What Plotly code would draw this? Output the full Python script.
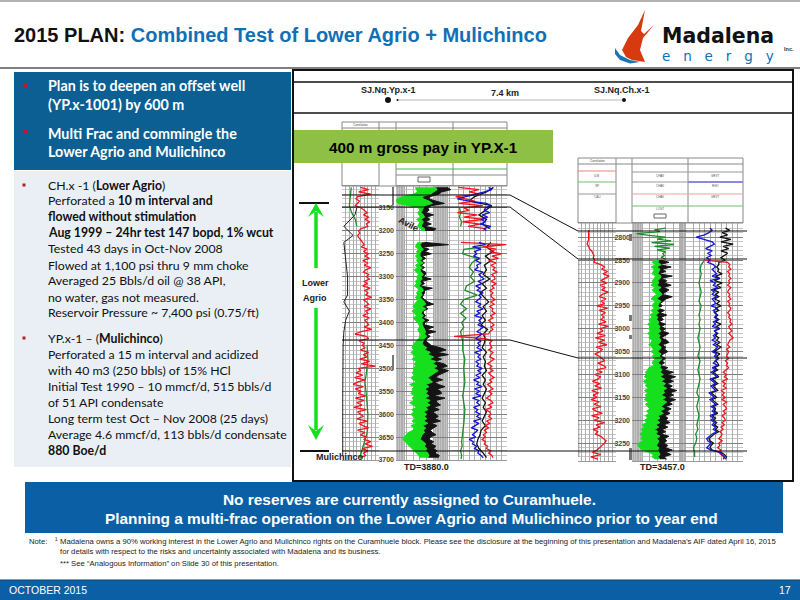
import plotly.graph_objects as go

# ---------- Well YP.x-1: depth (m) and curve readings (% of track width) ----------
D1 = list(range(3105, 3700, 5))
Y_RED1 = [50,72,45,78,42,38,47,40,36,52, 60,68,58,72,62,75,66,70,52,45,
          48,42,46,50,55,60,52,68,58,72, 62,74,56,70,60,78,64,58,72,66,
          74,60,68,56,76,62,70,64,80,58, 66,72,60,78,64,70,56,74,62,68,
          72,60,80,52,35,66,72,46,60,55, 62,50,72,58,68,48,75,52,90,44,
          50,38,56,34,62,42,30,58,36,52, 44,64,36,60,40,54,32,66,42,50,
          58,40,68,46,56,72,42,62,50,66, 60,78,62,82,55,70,58,64,50]
Y_GL = [34,36,38,30,12,2,0,4,20,40, 42,38,40,44,36,42,40,38,44,46,
        None,None,None,None,38,36,34,40,36,38, 34,38,36,40,34,38,32,36,40,36,
        38,34,36,32,38,40,36,38,34,38, 36,32,30,34,28,32,36,30,34,38,
        40,42,38,40,44,42,40,36,32,30, 28,32,26,30,34,28,36,32,34,30,
        32,28,34,26,30,36,24,32,28,30, 26,34,28,32,24,30,36,28,32,26,
        30,34,28,36,26,32,30,22,18,14, 12,16,20,24,28,32,36,40,42]
Y_GR = [70,72,66,60,46,48,58,64,50,48, 46,44,48,50,44,48,46,44,50,50,
        None,None,None,None,46,42,44,48,44,42, 42,46,42,48,40,46,42,44,48,44,
        46,42,44,40,46,48,44,46,42,46, 50,52,46,52,46,44,48,44,50,46,
        46,48,50,52,50,54,50,48,46,48, 54,50,60,56,66,58,70,64,72,66,
        74,68,62,56,60,64,52,58,50,56, 52,58,50,60,54,60,52,56,48,54,
        50,54,48,56,46,52,48,50,46,44, 42,48,52,50,54,52,56,58,56]
Y_BK = [90,96,80,75,60,58,70,85,62,56, 58,52,66,54,60,52,62,50,70,66,
        None,None,None,None,50,92,46,58,50,62, 46,52,45,50,44,50,44,52,52,47,
        62,46,50,42,64,50,50,48,46,50, 56,66,50,56,48,48,52,48,58,50,
        50,66,54,70,54,60,54,52,58,62, 78,88,72,92,70,80,68,84,90,78,
        92,84,74,70,82,68,74,86,72,78, 80,66,86,70,72,78,66,76,64,70,
        74,68,78,62,72,66,60,64,70,60, 58,66,62,70,66,72,68,76,74]
Y_BLUE = [66,72,58,40,20,8,30,62,70,60, 58,68,54,64,52,60,50,70,58,62,
          None,None,None,None,48,60,36,52,40,44, 38,50,42,52,44,46,40,56,48,52,
          58,46,54,42,50,44,56,48,52,46, 42,52,46,56,44,50,40,54,48,52,
          46,56,50,44,54,48,42,52,46,50, 44,54,40,50,46,52,42,48,44,54,
          46,52,42,50,38,48,44,54,40,50, 42,52,36,48,44,50,38,46,42,50,
          44,52,38,48,42,34,46,40,36,42, 30,38,36,44,40,48,46,52,56]
Y_RED3 = [10,48,30,50,5,25,40,10,55,20, 30,8,45,20,58,18,50,28,60,55,
          None,None,None,None,15,98,55,80,68,90, 72,84,66,80,70,78,74,82,72,76,
          78,70,80,72,76,68,74,70,72,78, 70,76,68,74,72,78,70,74,66,72,
          76,70,74,68,66,2,60,72,68,70, 72,66,74,70,68,76,70,64,72,68,
          74,66,70,76,68,72,64,70,74,66, 72,68,62,70,74,66,72,60,68,70,
          66,72,62,68,60,66,58,62,56,60, 54,60,58,64,62,70,66,72,74]
D1_TEN = list(range(3105, 3700, 10))
Y_BK3 = [75,62,40,30,72,60,48,62,55,68, None,None,70,62,74,60,70,58,62,56,
         68,54,62,50,58,66,56,62,54,60, 52,64,56,60,58,54,62,56,60,58,
         62,54,60,56,62,58,54,60,56,62, 58,54,60,52,50,46,44,48,56,62]
D1_G3 = [3150,3160,3170,3180,3190,3200,3210,3220,3230,3240,3250,3260,3270,3280,3290,3300,
         3310,3320,3330,3340,3350,3360,3370,3380,3390,3400,3410,3420,3430,3440,3460,3480,
         3500,3530,3560,3590,3620,3650,3660,3670,3680,3690,3698]
Y_G3 = [12,14,12,16,14,None,None,None,90,20,18,45,35,30,38,32,
        40,25,22,45,20,14,25,14,24,16,20,14,16,18,18,22,
        20,22,18,22,20,18,16,17,14,16,15]
D1_G1 = [3105,3125,3145,3160,3175,3190,3430,3450,3480,3510,3530,3560,3600,3640,3670,3695]
Y_G1 = [25,22,20,26,36,40,None,68,70,66,62,66,70,68,58,48]
D1_K1 = [3150,3165,3190,3210,3225,3250,3275,3300,3340,3355,3375,3395,3420,3450,3560,3690]
Y_K1 = [40,35,5,30,5,8,10,15,15,5,20,10,5,3,2,2]
Y_TICKS = [3150,3200,3250,3300,3350,3400,3450,3500,3550,3600,3650,3700]

# ---------- Well CH.x-1 ----------
C_D = list(range(2780, 3290, 5))
C_D_LOW = list(range(2850, 3290, 5))
C_RED1 = [None,28,28,28,28,28,26,24,28,30, 36,38,42,40,44,42,60,70,62,78,
          66,82,70,60,76,58,72,62,80,64, 56,74,60,70,50,78,56,72,62,68,
          60,74,54,80,58,66,50,72,46,70, 54,76,48,64,58,44,56,62,70,52,
          66,74,48,64,44,60,52,38,58,44, 62,36,54,40,50,34,56,42,60,38,
          48,64,36,56,42,70,48,58,40,52, 46,60,66,74,70,64,56,50,38,60, 34,52]
C_OLIVE_D = [2780,2784,2788,2792,2796,2800,2804,2808,2812,2816,2820,2824,2828,2832,2836,2840,2844,2848]
C_OLIVE = [60,40,50,8,30,60,45,70,35,75,40,68,45,60,55,58,52,60]
C_GL = [40,36,42,34,40,38,36,42,40,36, 38,34,42,36,40,44,38,34,42,38,
        36,40,34,38,32,36,30,34,28,32, 30,34,28,32,30,36,34,30,36,38,
        34,40,36,42,38,36,40,30,28,24, 26,22,28,20,26,24,30,22,28,24,
        26,22,30,24,28,32,26,30,24,28, 22,26,18,22,16,20,14,18,16,20,
        12,10,14,18,30,38,36,42]
C_GR = [48,46,52,44,50,48,46,52,50,46, 48,44,52,46,50,54,48,44,52,48,
        46,50,44,48,42,46,44,48,46,50, 48,52,46,50,48,52,50,46,52,50,
        46,52,48,54,50,46,52,50,54,50, 56,50,58,52,60,54,62,56,58,52,
        60,54,62,56,52,58,50,56,46,50, 44,50,42,48,40,46,42,50,44,48,
        46,44,48,46,48,50,46,50]
C_BK = [52,66,48,70,54,60,48,72,52,62, 58,70,56,66,60,54,72,60,56,50,
        54,46,58,50,62,52,56,48,60,52, 60,54,66,58,52,62,66,54,60,58,
        64,56,52,60,54,58,50,64,58,74, 62,78,66,74,62,72,66,80,68,74,
        64,78,66,72,60,70,62,68,58,64, 60,68,56,64,54,60,52,66,58,62,
        56,64,60,72,60,70,56,62]
C_BLUE = [40,44,38,30,15,28,44,48,40,32, 44,36,42,34,40,36,46,50,44,48,
          52,44,56,40,50,46,54,42,48,44, 52,44,48,50,42,54,46,50,52,48,
          54,46,50,44,56,48,52,46,50,44, 52,46,54,50,44,52,48,54,50,46,
          54,44,50,42,48,52,40,46,50,42, 46,50,38,44,48,40,46,50,42,48,
          44,50,40,46,42,48,44,50,46,52, 44,38,34,36,42,38,34,42,58,62, 66,64]
C_BK3 = [68,76,62,72,58,78,60,82,64,74, 60,72,66,60,68,56,56,52,56,54,
         62,50,58,48,62,52,60,46,56,50, 56,48,58,52,60,50,56,48,54,50,
         56,50,60,52,58,48,54,50,56,52, 58,52,60,54,48,58,52,56,50,54,
         56,48,54,46,52,56,44,50,54,46, 50,54,42,48,52,44,50,54,46,50,
         48,54,44,50,46,52,48,54,50,56, 48,42,38,40,46,42,40,44,60,66, 70,68]
C_RED3 = [30,72,76,74,78,72,76,74,78,74, 76,72,78,74,72,76,74,78,72,76,
          74,78,76,72,76,74,78,76,80,74, 76,80,74,78,82,76,74,72,76,70,
          74,72,70,74,68,72,70,74,68,64, 70,66,72,62,68,64,70,60,66,62,
          68,62,70,64,68,70,64,68,62,66, 68,62,66,60,64,58,62,60,56,62,
          56,58,54,60,56,60,66,68]
C_G3_D = list(range(2850, 3290, 10))
C_G3 = [30,24,22,24,22,20,22,24,22,20,24,22,20,22,20,22,20,18,20,22,20,18,
        22,20,18,20,22,20,18,16,20,18,16,18,20,18,16,18,14,16,14,10,12,12]
C_TICKS = [2800,2850,2900,2950,3000,3050,3100,3150,3200,3250]

# ---------- Slide text ----------
PANEL_TOP = [(86,"Plan is to deepen an offset well"),(104,"(YP.x-1001) by 600 m"),
             (133,"Multi Frac and commingle the"),(151,"Lower Agrio and Mulichinco")]
PANEL_BODY = [(185,"CH.x -1 (<b>Lower Agrio</b>)"),
              (201,"Perforated a <b>10 m interval and</b>"),
              (216,"<b>flowed without stimulation</b>"),
              (232,"<b>Aug 1999 – 24hr test 147 bopd, 1% wcut</b>"),
              (248,"Tested 43 days in Oct-Nov 2008"),
              (265,"Flowed at 1,100 psi thru 9 mm choke"),
              (281,"Averaged 25 Bbls/d oil @ 38 API,"),
              (297,"no water, gas not measured."),
              (312,"Reservoir Pressure ~ 7,400 psi (0.75/ft)"),
              (338,"YP.x-1 – (<b>Mulichinco</b>)"),
              (354,"Perforated a 15 m interval and acidized"),
              (370,"with 40 m3 (250 bbls) of 15% HCl"),
              (386,"Initial Test 1990 – 10 mmcf/d, 515 bbls/d"),
              (402,"of 51 API condensate"),
              (418,"Long term test Oct – Nov 2008 (25 days)"),
              (434,"Average 4.6 mmcf/d, 113 bbls/d condensate"),
              (450,"<b>880 Boe/d</b>")]

RED, GREEN, DKG, BLUE = "#F0141E", "#16E01E", "#1F8A2A", "#1414D2"
SANS, LATO = "Liberation Sans", "Lato"
W, H = 800, 600
px = lambda x: x / W
py = lambda y: 1 - y / H

fig = go.Figure()
shapes, notes = [], []

def rect(x0, y0, x1, y1, fill=None, line=None, lw=1, layer="above"):
    shapes.append(dict(type="rect", xref="paper", yref="paper", x0=px(x0), x1=px(x1), y0=py(y0), y1=py(y1),
                       fillcolor=fill or "rgba(0,0,0,0)", line=dict(color=line or "rgba(0,0,0,0)", width=lw if line else 0),
                       layer=layer))

def seg(x0, y0, x1, y1, color="#000", lw=1, layer="above"):
    shapes.append(dict(type="line", xref="paper", yref="paper", x0=px(x0), x1=px(x1), y0=py(y0), y1=py(y1),
                       line=dict(color=color, width=lw), layer=layer))

def poly(pts, fill):
    d = "M" + " L".join(f"{px(a):.5f},{py(b):.5f}" for a, b in pts) + " Z"
    shapes.append(dict(type="path", xref="paper", yref="paper", path=d, fillcolor=fill, line=dict(width=0), layer="above"))

def txt(x, y, s, size, color="#000", family=SANS, anchor="left", bold=False, angle=0):
    notes.append(dict(xref="paper", yref="paper", x=px(x), y=py(y), text=f"<b>{s}</b>" if bold else s, showarrow=False,
                      xanchor=anchor, yanchor="middle", borderpad=0, textangle=angle,
                      font=dict(size=size, color=color, family=family)))

def line(xv, yv, xa, ya, color, width=1.3):
    fig.add_trace(go.Scatter(x=xv, y=yv, xaxis=xa, yaxis=ya, mode="lines", line=dict(color=color, width=width),
                             hoverinfo="skip", showlegend=False))

def band(left, right, depth, xa, ya, color):
    """Fill between two curves, splitting at log gaps."""
    runs, cur = [], []
    for l, r, d in zip(left, right, depth):
        if l is None or r is None:
            if cur: runs.append(cur)
            cur = []
        else:
            cur.append((l, r, d))
    if cur: runs.append(cur)
    for run in runs:
        ds = [c[2] for c in run]
        line([c[1] for c in run], ds, xa, ya, color, 1)
        fig.add_trace(go.Scatter(x=[c[0] for c in run], y=ds, xaxis=xa, yaxis=ya, mode="lines", fill="tonextx",
                                 fillcolor=color, line=dict(color=color, width=1), hoverinfo="skip", showlegend=False))

# Well YP.x-1 traces
line(Y_G1[:6], D1_G1[:6], "x", "y", DKG); line(Y_G1[7:], D1_G1[7:], "x", "y", DKG)
line(Y_K1, D1_K1, "x", "y", "#222", 1)
line(Y_RED1, D1, "x", "y", RED)
band(Y_GR, Y_BK, D1, "x2", "y", "#141414")
band(Y_GL, Y_GR, D1, "x2", "y", GREEN)
line(Y_G3, D1_G3, "x3", "y", DKG)
line(Y_BK3, D1_TEN, "x3", "y", "#111")
line(Y_RED3, D1, "x3", "y", RED)
line(Y_BLUE, D1, "x3", "y", BLUE)
# Well CH.x-1 traces
line([2] * len(C_G3_D), C_G3_D, "x4", "y2", "#666", 0.7)
line(C_RED1, C_D, "x4", "y2", RED)
line(C_OLIVE, C_OLIVE_D, "x5", "y2", DKG)
band(C_GR, C_BK, C_D_LOW, "x5", "y2", "#141414")
band(C_GL, C_GR, C_D_LOW, "x5", "y2", GREEN)
line(C_G3, C_G3_D, "x6", "y2", DKG)
line(C_BK3, C_D, "x6", "y2", "#111")
line(C_RED3, C_D_LOW, "x6", "y2", RED)
line(C_BLUE, C_D, "x6", "y2", BLUE)

GRID, GRID2 = "#AEAEAE", "#C6C6C6"
even = list(range(0, 101, 10))
t2a = [0,3,6,9,12,15,18,30,42,54,66,69,72,75,78,81,84,87,90,93,100]
t2b = [0,3,6,9,12,15,18,32,46,60,74,85,87,89,91,93,95,100]

def xaxis(x0, x1, ya, ticks):
    return dict(domain=[px(x0), px(x1)], range=[0, 100], anchor=ya, tickmode="array", tickvals=ticks,
                showticklabels=False, ticks="", showgrid=True, gridcolor=GRID, gridwidth=1, zeroline=False,
                showline=True, linecolor="#999", linewidth=1, mirror=True)

def yaxis(y_top, y_bot, d_top, d_bot, anchor, ticks):
    return dict(domain=[py(y_bot), py(y_top)], range=[d_bot, d_top], anchor=anchor, tickmode="array", tickvals=ticks,
                ticks="", ticklen=0, showgrid=True, gridcolor="#808080", gridwidth=1, zeroline=False, showline=False,
                tickfont=dict(size=7, color="#444", family=SANS, weight=700), ticklabelstandoff=1,
                minor=dict(dtick=10, showgrid=True, gridcolor=GRID2, gridwidth=1, ticks=""))

# Slide furniture
rect(0, 0, 800, 600, fill="#FFFFFF", layer="below")
seg(0, 1, 800, 1, "#666", 1)
seg(0, 68, 800, 68, "#555", 1.5)
rect(14, 72, 291, 170, fill="#0B5F92")
rect(14, 171, 291, 467, fill="#E9EFF4", layer="below")
rect(293, 70, 793, 481, line="#111", lw=2, layer="below")
seg(293, 82, 793, 82, "#111", 1.5)
seg(293, 113, 793, 113, "#111", 1.5)
rect(25, 482, 783, 533, fill="#0B5FA5")
rect(0, 580, 800, 600, fill="#0B5FA5")
seg(0, 580, 800, 580, "#08406F", 1)

# Grey log-cycle bands of the resistivity tracks
for x0, x1, y0, y1 in ((396, 405, 186, 460), (433, 448, 186, 460), (632, 642, 223, 461), (680, 685, 223, 461)):
    rect(x0, y0, x1, y1, fill="#C4C4C4", layer="below")

# Well headers (schematic frames above the logs)
for xs, top, bot in (((342,379,396,453,507), 122, 186), ((578,616,632,688,743), 158, 223)):
    rect(xs[0], top, xs[-1], bot, line="#888", lw=1)
    for xv in xs[1:-1]:
        seg(xv, top, xv, bot, "#888", 1)
    seg(xs[0], top + 6, xs[-1], top + 6, "#888", 1)
seg(396, 169, 507, 169, "#4CAF50", 1)
seg(396, 175, 507, 175, "#888", 1)
rect(418, 177, 430, 182, line="#666", lw=1)
txt(360, 125, "Correlation", 3, "#444", anchor="center")
txt(597, 161, "Correlation", 3, "#444", anchor="center")
seg(578, 171, 616, 171, "#F08080", 1); seg(578, 182, 616, 182, "#6FBF6F", 1); seg(578, 194, 616, 194, "#999", 1)
seg(632, 172, 688, 172, "#999", 1); seg(632, 182, 688, 182, "#999", 1); seg(632, 194, 743, 194, "#F0A0A0", 1)
seg(688, 172, 743, 172, "#999", 1); seg(688, 182, 743, 182, "#8A8AE0", 2); seg(632, 206, 743, 206, "#6FBF6F", 1)
rect(654, 214, 666, 218, line="#666", lw=1)
for xv, yv, s in ((597,176,"ILM"),(597,186,"SP"),(597,197,"CALI"),(660,176,"CHAV"),(660,186,"CHAV"),(660,197,"CHAV"),
                  (715,176,"GRVT"),(715,186,"RHO"),(715,197,"GRVT"),(660,209,"LOGT")):
    txt(xv, yv, s, 3, "#555", anchor="center")
# depth-track tool marks
for x0, y0, x1, y1 in ((392,187,394,205),(392,355,394,370),(629,234,632,241),(629,315,632,321),(629,335,632,339),(629,448,632,460)):
    rect(x0, y0, x1, y1, fill="#777")

# Green pay banner
rect(294, 130, 553, 163, fill="#8DC044")
txt(423, 147, "400 m gross pay in YP.X-1", 15.3, bold=True, anchor="center")

# Section line
txt(388, 90, "SJ.Nq.Yp.x-1", 9, "#222", anchor="center", bold=True)
txt(505, 93, "7.4 km", 9, "#222", anchor="center", bold=True)
txt(622, 90, "SJ.Nq.Ch.x-1", 9, "#222", anchor="center", bold=True)
seg(398, 100, 622, 100, "#BBB", 1)
shapes.append(dict(type="circle", xref="paper", yref="paper", x0=px(385), x1=px(391), y0=py(103), y1=py(97), fillcolor="#111", line=dict(width=0)))
shapes.append(dict(type="circle", xref="paper", yref="paper", x0=px(396.5), x1=px(398.5), y0=py(101), y1=py(99), fillcolor="#111", line=dict(width=0)))
shapes.append(dict(type="circle", xref="paper", yref="paper", x0=px(622), x1=px(626), y0=py(102), y1=py(98), fillcolor="#111", line=dict(width=0)))

# Correlation lines
for ya, yb in ((195, 231), (207, 259), (340, 358)):
    seg(342, ya, 510, ya, "#111", 1.2); seg(510, ya, 578, yb, "#111", 1); seg(578, yb, 747, yb, "#111", 1.2)
seg(342, 451, 747, 451, "#111", 1.2)

# Lower Agrio arrows
seg(299, 203, 329, 203, "#111", 2)
seg(300, 451, 329, 451, "#111", 2)
seg(316, 212, 316, 268, GREEN, 3.5)
seg(316, 308, 316, 430, GREEN, 3.5)
poly([(316,203),(308,217),(316,211),(324,217)], GREEN)
poly([(316,440),(308,425),(316,431),(324,425)], GREEN)
txt(315, 283, "Lower", 9, "#222", anchor="center", bold=True)
txt(315, 298, "Agrio", 9, "#222", anchor="center", bold=True)
txt(340, 457, "Mulichinco", 9, "#222", anchor="center", bold=True)
txt(408, 224, "Avile", 9, "#222", anchor="center", bold=True, angle=28)
txt(427, 467, "TD=3880.0", 9, "#222", anchor="center", bold=True)
txt(662, 467, "TD=3457.0", 9, "#222", anchor="center", bold=True)

# Title
txt(13, 35, "2015 PLAN: <span style='color:#1170B5'>Combined Test of Lower Agrio + Mulichinco</span>", 20, "#111", bold=True)

# Logo
poly([(615,48),(620,55),(630,60),(640,62),(630,63.5),(620,60),(615,54)], "#1B75B5")
poly([(645,10),(638,25),(628,38),(622,50),(626,57),(632,60),(645,62),(640,50),(643,38),(654,25),(644,34),(641,31)], "#D63A0E")
txt(661, 36, "Madalena", 20.5, "#111", family="DejaVu Sans", bold=True)
txt(661, 56, "e   n   e   r   g   y", 13.5, "#1170B5", family="DejaVu Sans")
txt(783, 49, "Inc.", 5.5, "#333", bold=True)

# Left panel text
for y, s in PANEL_TOP:
    txt(47, y, s, 14.3, "#FFFFFF", family=LATO, bold=True)
for yb in (86, 132):
    rect(23.5, yb - 2, 27, yb + 1.5, fill="#B51C24")
for y, s in PANEL_BODY:
    txt(47, y, s, 12.3, "#111", family=LATO)
for yb in (185, 338):
    rect(22.5, yb - 1.5, 25.5, yb + 1.5, fill="#B51C24")

# Bottom band
txt(410, 499, "No reserves are currently assigned to Curamhuele.", 15.4, "#FFFFFF", anchor="center", bold=True)
txt(411, 518, "Planning a multi-frac operation on the Lower Agrio and Mulichinco prior to year end", 15.4, "#FFFFFF", anchor="center", bold=True)

# Notes and footer
NOTE = 7.7
txt(28, 541, "Note:", NOTE, "#222")
txt(54, 540, "¹", NOTE, "#222")
txt(59, 541, "Madalena owns a 90% working interest in the Lower Agrio and Mulichinco rights on the Curamhuele block. Please see the disclosure at the beginning of this presentation and Madalena’s AIF dated April 16, 2015", NOTE, "#222")
txt(59, 551, "for details with respect to the risks and uncertainty associated with Madalena and its business.", NOTE, "#222")
txt(59, 563, "*** See “Analogous Information” on Slide 30 of this presentation.", NOTE, "#222")
txt(8, 590, "OCTOBER 2015", 10.5, "#FFFFFF")
txt(792, 590, "17", 10.5, "#FFFFFF", anchor="right")

fig.update_layout(
    width=W, height=H, margin=dict(l=0, r=0, t=0, b=0, pad=0, autoexpand=False), autosize=False,
    paper_bgcolor="#FFFFFF", plot_bgcolor="#FFFFFF", showlegend=False,
    xaxis=xaxis(342, 379, "y", even), xaxis2=xaxis(396, 453, "y", t2a), xaxis3=xaxis(453, 507, "y", even),
    xaxis4=xaxis(578, 616, "y2", even), xaxis5=xaxis(632, 688, "y2", t2b), xaxis6=xaxis(688, 743, "y2", even),
    yaxis=yaxis(186, 460, 3102, 3700, "x2", Y_TICKS),
    yaxis2=yaxis(223, 461, 2769, 3289, "x5", C_TICKS),
    shapes=shapes, annotations=notes,
)
fig.write_html("out.html", config=dict(displayModeBar=False), post_script="document.body.style.margin='0';")
